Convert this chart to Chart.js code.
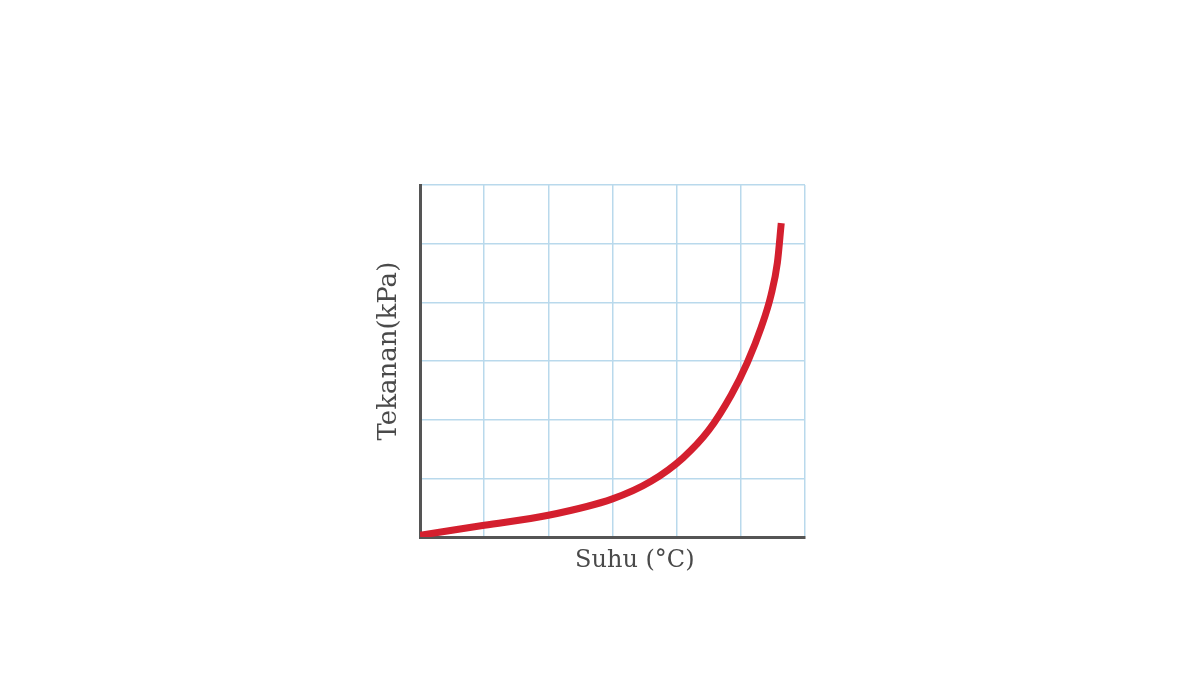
<!DOCTYPE html>
<html>
<head>
<meta charset="utf-8">
<script src="https://cdn.jsdelivr.net/npm/chart.js@4/dist/chart.umd.min.js"></script>
<style>
  html, body { margin: 0; padding: 0; background: #fff; }
</style>
</head>
<body>
<canvas id="chart" width="1200" height="675"></canvas>
<script>
// values (grid units, 6 x 6 cells)
const suhu    = [0, 1, 2, 3, 3.6, 4.1, 4.5, 4.85, 5.1, 5.32, 5.47, 5.57, 5.63];
const tekanan = [0.03, 0.2, 0.37, 0.65, 0.95, 1.35, 1.82, 2.42, 2.97, 3.58, 4.12, 4.68, 5.35];
const xLabel = 'Suhu (\u00B0C)';
const yLabel = 'Tekanan(kPa)';

// axis labels sit a bit off-centre in the original, so draw them here
const axisLabels = {
  id: 'axisLabels',
  afterDraw(chart) {
    const { ctx, chartArea } = chart;
    ctx.save();
    ctx.fillStyle = '#4a4a4a';
    ctx.textAlign = 'center';
    ctx.textBaseline = 'middle';
    ctx.font = '24px "DejaVu Serif", "Liberation Serif", serif';
    ctx.fillText(xLabel, chartArea.left + chartArea.width * 0.558, chartArea.bottom + 24);
    ctx.font = '26px "DejaVu Serif", "Liberation Serif", serif';
    ctx.translate(chartArea.left - 31, chartArea.top + chartArea.height * 0.472);
    ctx.rotate(-Math.PI / 2);
    ctx.fillText(yLabel, 0, 0);
    ctx.restore();
  }
};

const zeroSize = (scale) => {
  if (scale.isHorizontal()) scale.height = 0; else scale.width = 0;
};

new Chart(document.getElementById('chart'), {
  type: 'line',
  data: {
    datasets: [{
      data: suhu.map((x, i) => ({ x: x, y: tekanan[i] })),
      borderColor: '#d41f2e',
      borderWidth: 7,
      borderCapStyle: 'butt',
      pointRadius: 0,
      fill: false,
      cubicInterpolationMode: 'monotone'
    }]
  },
  options: {
    responsive: false,
    animation: false,
    devicePixelRatio: 1,
    layout: { padding: { left: 420, right: 395, top: 185, bottom: 138 } },
    plugins: { legend: { display: false }, tooltip: { enabled: false } },
    scales: {
      x: {
        type: 'linear',
        min: 0, max: 6,
        ticks: { display: false, stepSize: 1 },
        grid: { color: '#b9d9ec', lineWidth: 1.5, drawTicks: false },
        border: { color: '#555', width: 3 },
        afterFit: zeroSize
      },
      y: {
        min: 0, max: 6,
        ticks: { display: false, stepSize: 1 },
        grid: { color: '#b9d9ec', lineWidth: 1.5, drawTicks: false },
        border: { color: '#555', width: 3 },
        afterFit: zeroSize
      }
    }
  },
  plugins: [axisLabels]
});
</script>
</body>
</html>
